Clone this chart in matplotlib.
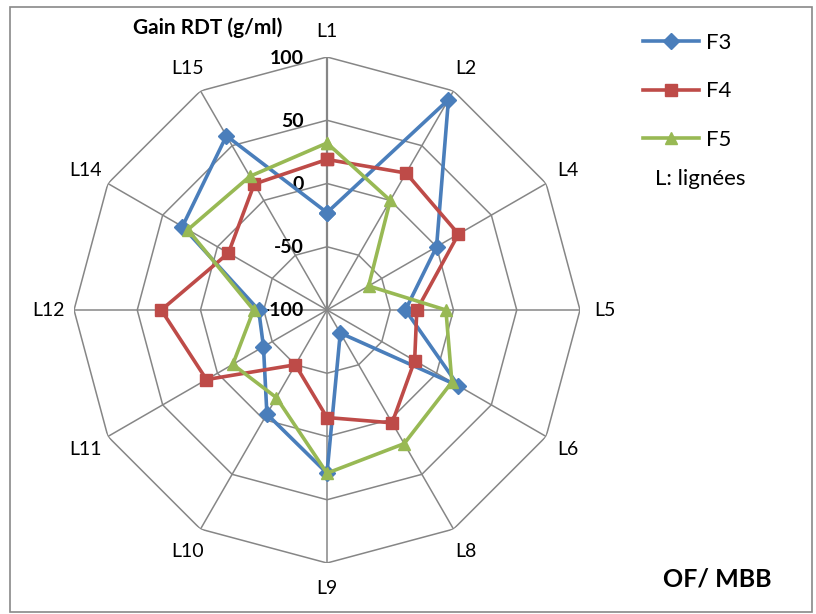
import numpy as np
import matplotlib
matplotlib.use("Agg")
import matplotlib.pyplot as plt
from matplotlib.patches import Rectangle

plt.rcParams['font.family'] = ['Lato', 'DejaVu Sans']

# Radar data: yield gain (g/ml) per line for three formulations
categories = ["L1", "L2", "L4", "L5", "L6", "L8", "L9", "L10", "L11", "L12", "L14", "L15"]
f3 = [-23, 92, 0, -38, 20, -79, 29, -5, -42, -46, 32, 59]
f4 = [19, 25, 20, -29, -20, 3, -15, -50, 10, 31, -10, 15]
f5 = [32, 0, -62, -6, 14, 22, 29, -20, -14, -42, 27, 22]
r_ticks = [-100, -50, 0, 50, 100]

series = [("F3", f3, "#4A7EBB", "D", 8),
          ("F4", f4, "#BE4B48", "s", 8),
          ("F5", f5, "#98B954", "^", 9)]

W, H = 816, 614
fig = plt.figure(figsize=(W / 100, H / 100), dpi=100)
fig.patch.set_facecolor("white")

# Outer chart frame
fig.add_artist(Rectangle((10 / W, 2 / H), 802 / W, 605 / H, transform=fig.transFigure,
                         fill=False, edgecolor="#898989", linewidth=1.2))

cx, cy, R = 327, 310, 253
ax = fig.add_axes([(cx - R) / W, (H - cy - R) / H, 2 * R / W, 2 * R / H], projection="polar")
ax.set_theta_offset(np.pi / 2)
ax.set_theta_direction(-1)
ax.set_ylim(-100, 100)
ax.grid(False)
ax.set_xticks([])
ax.set_yticks([])
ax.spines["polar"].set_visible(False)
ax.patch.set_alpha(0)

n = len(categories)
theta = np.arange(n) * 2 * np.pi / n
theta_closed = np.append(theta, theta[0])

grid_color = "#868686"
# Polygon rings
for rv in r_ticks[1:]:
    ax.plot(theta_closed, np.full(n + 1, rv), color=grid_color, lw=1.1, zorder=1)
# Spokes
for i, t in enumerate(theta):
    ax.plot([t, t], [r_ticks[0], r_ticks[-1]], color=grid_color,
            lw=1.6 if i == 0 else 1.1, zorder=1)

# Radial tick labels along the first spoke
for rv in r_ticks:
    ax.annotate(str(rv), xy=(0, rv), xytext=(-23, -1), textcoords="offset pixels",
                ha="right", va="center", fontsize=14, fontweight="bold", annotation_clip=False)

# Category labels
for t, lab in zip(theta, categories):
    ax.text(t, 120, lab, ha="center", va="center", fontsize=14, clip_on=False)

handles = []
for name, vals, col, mk, ms in series:
    v = np.append(vals, vals[0])
    h, = ax.plot(theta_closed, v, color=col, lw=2.6, marker=mk, markersize=ms,
                 markerfacecolor=col, markeredgecolor=col, label=name, zorder=3, clip_on=False)
    handles.append(h)

fig.legend(handles=handles, loc="upper left", bbox_to_anchor=(643 / W, 1 - 33 / H),
           frameon=False, fontsize=16, handlelength=2.5, handletextpad=0.35,
           labelspacing=1.28, borderpad=0, borderaxespad=0)

fig.text(655 / W, 1 - 179 / H, "L: lignées", fontsize=16, ha="left", va="center")
fig.text(208 / W, 1 - 28 / H, "Gain RDT (g/ml)", fontsize=15, fontweight="bold",
         ha="center", va="center")
fig.text(717 / W, 1 - 579 / H, "OF/ MBB", fontsize=18, fontweight="bold",
         ha="center", va="center")

fig.savefig("out.png", dpi=100, facecolor="white")
